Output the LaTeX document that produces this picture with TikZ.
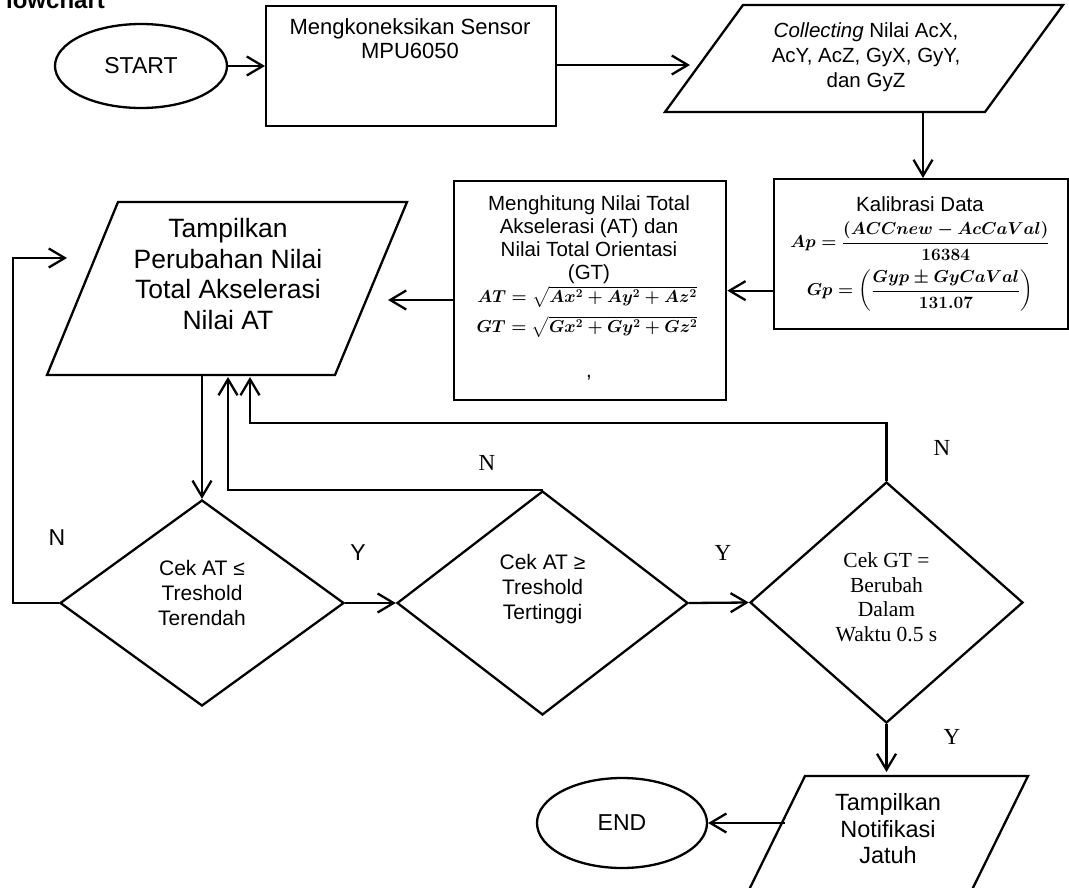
\documentclass[tikz,border=0pt]{standalone}
\usepackage{amsmath}
\usepackage[no-math]{fontspec}
\setmainfont{Liberation Sans}
\newfontfamily\tnr{Liberation Serif}
\usetikzlibrary{shapes.geometric,arrows.meta}
\begin{document}
\begin{tikzpicture}[x=1pt,y=-1pt,line width=2.3pt,
  arr/.style={-{Straight Barb[length=16pt,width=19pt]}},
  term/.style={draw,ellipse,inner sep=0pt,font=\fontsize{23}{26}\selectfont},
  proc/.style={draw,rectangle,inner sep=0pt,anchor=north west},
  dec/.style={draw,diamond,inner sep=0pt},
  dtxt/.style={align=center,inner sep=0pt,font=\fontsize{21}{25}\selectfont},
  sdtxt/.style={align=center,inner sep=0pt,font=\tnr\fontsize{21.5}{24.5}\selectfont},
  txt/.style={align=center,inner sep=0pt,font=\fontsize{20.5}{23}\selectfont},
  frm/.style={inner sep=0pt,font=\fontsize{19}{22}\selectfont\boldmath},
  lab/.style={inner sep=0pt,font=\fontsize{23}{26}\selectfont},
  slab/.style={inner sep=0pt,font=\tnr\fontsize{23}{26}\selectfont},
  io/.style={draw,line join=miter}]
\useasboundingbox (0,0) rectangle (1069,888);
\clip (0,0) rectangle (1069,888);

% partially visible title
\node[anchor=base west,inner sep=0pt,font=\bfseries\fontsize{24}{26}\selectfont] (ttl) at (5,9) {lowchart};

% START
\node[term,minimum width=172pt,minimum height=84pt] (start) at (141,66) {START};

% Mengkoneksikan Sensor
\node[proc,minimum width=290pt,minimum height=120pt] (conn) at (265,5) {};
\node[txt,font=\fontsize{22}{24}\selectfont] (connt) at (410,39) {Mengkoneksikan Sensor\\MPU6050};

% Collecting parallelogram
\draw[io] (743,5) -- (1063,5) -- (985,112) -- (665,112) -- cycle;
\node[txt,font=\fontsize{20.5}{25}\selectfont] (coll) at (866,57) {\textit{Collecting} Nilai AcX,\\AcY, AcZ, GyX, GyY,\\dan GyZ};
\coordinate (collw) at (690,65);
\coordinate (colls) at (923,112);

% Kalibrasi box
\node[proc,minimum width=294pt,minimum height=150pt] (kal) at (773,178) {};
\node[txt] (kalt) at (920,204) {Kalibrasi Data};
\node[frm] (kalap) at (920,241) {$Ap=\dfrac{(ACCnew-AcCaVal)}{16384}$};
\node[frm] (kalgp) at (920,291) {$Gp=\left(\dfrac{Gyp\pm GyCaVal}{131.07}\right)$};

% Menghitung box
\node[proc,minimum width=272pt,minimum height=219pt] (hit) at (453,180) {};
\node[txt] (hitt) at (589,240) {Menghitung Nilai Total\\Akselerasi (AT) dan\\Nilai Total Orientasi\\(GT)};
\node[frm,font=\fontsize{18.5}{22}\selectfont\boldmath] (hitat) at (587,297) {$AT=\sqrt{Ax^2+Ay^2+Az^2}$};
\node[frm,font=\fontsize{18.5}{22}\selectfont\boldmath] (hitgt) at (587,327) {$GT=\sqrt{Gx^2+Gy^2+Gz^2}$};
\node[txt] (hitc) at (589,378) {,};

% Tampilkan parallelogram
\draw[io] (118,202) -- (407,202) -- (335,375) -- (47,375) -- cycle;
\node[txt,font=\fontsize{26.5}{30.5}\selectfont] (tamp) at (228,274) {Tampilkan\\Perubahan Nilai\\Total Akselerasi\\Nilai AT};
\coordinate (tpe) at (388,300);
\coordinate (tpw) at (67,258);
\coordinate (tps1) at (202,375);
\coordinate (tps2) at (228,377);
\coordinate (tps3) at (250,377);

% decisions
\node[dec,minimum width=284pt,minimum height=206pt] (d1) at (202,603) {};
\node[dtxt] (d1t) at (202,593) {Cek AT ≤\\Treshold\\Terendah};
\node[dec,minimum width=291pt,minimum height=224pt] (d2) at (542.5,603) {};
\node[dtxt] (d2t) at (542.5,589) {Cek AT ≥\\Treshold\\Tertinggi};
\node[dec,minimum width=273pt,minimum height=241pt] (d3) at (886.5,602.5) {};
\node[sdtxt] (d3t) at (886.5,597) {Cek GT =\\Berubah\\Dalam\\Waktu 0.5 s};

% Notifikasi parallelogram
\draw[io] (805,776) -- (1028,776) -- (967,900) -- (744,900) -- cycle;
\node[txt,font=\fontsize{23.5}{26.5}\selectfont] (notif) at (888,829) {Tampilkan\\Notifikasi\\Jatuh};
\coordinate (notifn) at (886.5,772);
\coordinate (notifw) at (785,823);

% END
\node[term,minimum width=170pt,minimum height=90pt] (end) at (622,823) {END};

% connectors
\draw[arr] (start.east) -- (start.east -| conn.west);
\draw[arr] (conn.east |- collw) -- (collw);
\draw[arr] (colls) -- (colls |- kal.north);
\draw[arr] (kal.west |- hit.east) -- (hit.east);
\draw[arr] (hit.west |- tpe) -- (tpe);
\draw[arr] (tps1) -- (d1.north);
\draw[arr] (d1.west) -- ++(-46,0) |- (tpw);
\draw[arr] (d1.east) -- (d2.west);
\draw[arr] (d2.east) -- (d3.west);
\draw[arr] (d2.north) -| (tps2);
\draw[arr] (d3.north) -- ++(0,-58) -| (tps3);
\draw[arr] (d3.south) -- (notifn);
\draw[arr] (notifw) -- (end.east);

% branch labels
\node[lab] (n1) at (57,538) {N};
\node[lab] (y1) at (358,553) {Y};
\node[slab] (n2) at (487,463) {N};
\node[slab] (y2) at (723,553) {Y};
\node[slab] (n3) at (942,448) {N};
\node[slab] (y3) at (952,737) {Y};
\end{tikzpicture}
\end{document}
